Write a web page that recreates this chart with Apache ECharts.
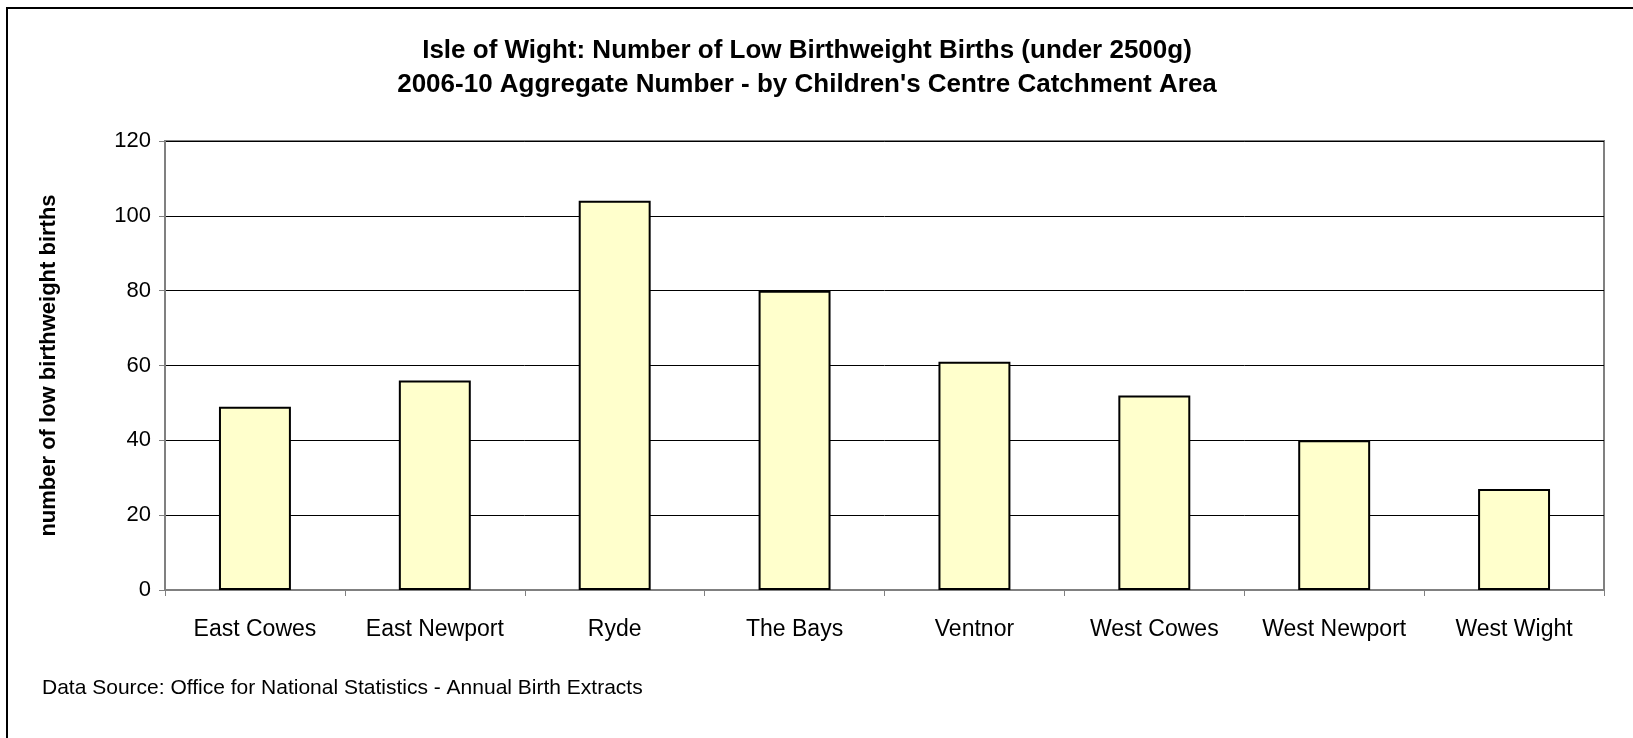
<!DOCTYPE html>
<html>
<head>
<meta charset="utf-8">
<script src="https://cdn.jsdelivr.net/npm/echarts@6/dist/echarts.min.js"></script>
<style>
  html, body { margin: 0; padding: 0; background: #fff; }
  #chart { width: 1633px; height: 738px; }
</style>
</head>
<body>
<div id="chart"></div>
<script>
var areas = ['East Cowes', 'East Newport', 'Ryde', 'The Bays', 'Ventnor', 'West Cowes', 'West Newport', 'West Wight'];
var lowBirthweight = [49, 56, 104, 80, 61, 52, 40, 27];
var yTicks = { min: 0, max: 120, interval: 20 };

var titleText = "Isle of Wight: Number of Low Birthweight Births (under 2500g)\n2006-10 Aggregate Number - by Children's Centre Catchment Area";
var sourceText = 'Data Source: Office for National Statistics - Annual Birth Extracts';

var font = '"Liberation Sans", Arial, sans-serif';

var myChart = echarts.init(document.getElementById('chart'), null, { renderer: 'canvas' });

var option = {
    backgroundColor: '#fff',
    animation: false,
    title: {
        text: titleText,
        left: 807,
        top: 34,
        padding: 0,
        textAlign: 'center',
        textStyle: {
            fontFamily: font,
            fontWeight: 'bold',
            fontSize: 26,
            lineHeight: 34,
            color: '#000'
        }
    },
    graphic: [
        {
            type: 'rect',
            shape: { x: 7, y: 8, width: 1640, height: 745 },
            style: { fill: null, stroke: '#000', lineWidth: 2 },
            silent: true
        },
        {
            type: 'text',
            left: 42,
            top: 678,
            style: {
                text: sourceText,
                font: '21px ' + font,
                fill: '#000'
            }
        }
    ],
    grid: {
        left: 165,
        right: 29,
        top: 141,
        bottom: 148,
        show: true,
        borderColor: '#808080',
        borderWidth: 2,
        backgroundColor: '#fff'
    },
    xAxis: {
        type: 'category',
        data: areas,
        axisLine: { lineStyle: { color: '#808080', width: 2 } },
        axisTick: { show: true, interval: 0, length: 6, lineStyle: { color: '#808080', width: 1 } },
        axisLabel: {
            interval: 0,
            margin: 28,
            fontFamily: font,
            fontSize: 23,
            color: '#000'
        }
    },
    yAxis: {
        type: 'value',
        min: yTicks.min,
        max: yTicks.max,
        interval: yTicks.interval,
        name: 'number of low birthweight births',
        nameLocation: 'middle',
        nameGap: 105,
        nameRotate: 90,
        nameTextStyle: {
            fontFamily: font,
            fontWeight: 'bold',
            fontSize: 22,
            color: '#000'
        },
        axisLine: { show: true, lineStyle: { color: '#808080', width: 2 } },
        axisTick: { show: true, length: 6, lineStyle: { color: '#808080', width: 1 } },
        axisLabel: {
            margin: 14,
            fontFamily: font,
            fontSize: 22,
            color: '#000'
        },
        splitLine: { show: true, lineStyle: { color: '#000', width: 1 } }
    },
    series: [
        {
            type: 'bar',
            data: lowBirthweight,
            barWidth: '40%',
            itemStyle: {
                color: '#FFFFCC',
                borderColor: '#000',
                borderWidth: 2
            }
        }
    ]
};

myChart.setOption(option);
window.addEventListener('resize', myChart.resize);
</script>
</body>
</html>
